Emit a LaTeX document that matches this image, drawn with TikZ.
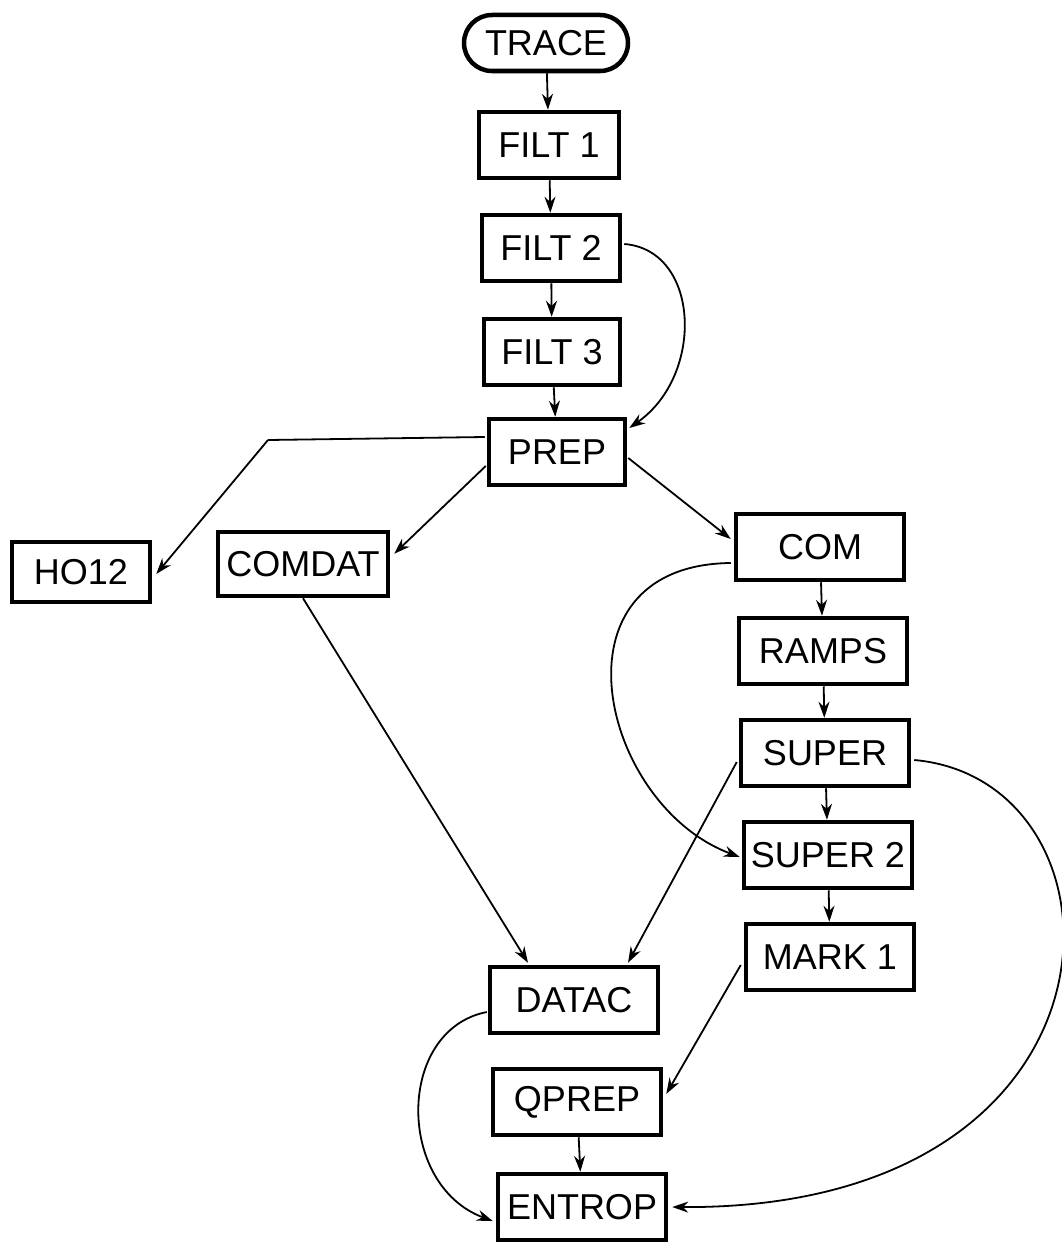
\documentclass[tikz,border=0pt]{standalone}
\usepackage{fontspec}
\setmainfont{Liberation Sans}
\usetikzlibrary{arrows.meta,calc}
\begin{document}
\begin{tikzpicture}[x=1pt,y=-1pt,
  box/.style={draw,line width=4.5pt,inner sep=0pt,minimum width=#1,minimum height=66pt,
    font=\fontsize{36}{40}\selectfont},
  box/.default=166pt,
  pill/.style={box=164pt,minimum height=56pt,rounded corners=28pt},
  arr/.style={line width=1.8pt,-{Stealth[length=16pt,width=11pt]}},
  ln/.style={line width=1.8pt}]
\useasboundingbox (0,0) rectangle (1061,1247);

% program modules
\node[pill] (trace) at (546,43) {TRACE};
\node[box=140pt] (filt1) at (549,145) {FILT 1};
\node[box=138pt] (filt2) at (551,248) {FILT 2};
\node[box=136pt] (filt3) at (552,352) {FILT 3};
\node[box=136pt] (prep) at (557,452) {PREP};
\node[box=138pt,minimum height=60pt] (ho12) at (81,572) {HO12};
\node[box=170pt,minimum height=64pt] (comdat) at (303,564) {COMDAT};
\node[box=168pt] (com) at (820,547) {COM};
\node[box=168pt] (ramps) at (823,651) {RAMPS};
\node[box=168pt] (super) at (825,753) {SUPER};
\node[box=168pt] (super2) at (828,855) {SUPER 2};
\node[box=168pt] (mark1) at (830,957) {MARK 1};
\node[box=168pt] (datac) at (574,1000) {DATAC};
\node[box=168pt] (qprep) at (577,1102) {QPREP};
\node[box=168pt] (entrop) at (582,1207) {ENTROP};

% main chain
\draw[arr] (trace) -- (filt1);
\draw[arr] (filt1) -- (filt2);
\draw[arr] (filt2) -- (filt3);
\draw[arr] (filt3) -- (prep);
\draw[arr] (com) -- (ramps);
\draw[arr] (ramps) -- (super);
\draw[arr] (super) -- (super2);
\draw[arr] (super2) -- (mark1);
\draw[arr] (qprep) -- (entrop);

% bypass of FILT 3
\draw[arr] ($(filt2.east)+(2,-4)$) .. controls (700,250) and (705,375) .. ($(prep.east)+(2,-24)$);

% branches out of PREP
\coordinate (bend) at (268,440);
\draw[ln] ($(prep.west)+(-2,-15)$) -- (bend);
\draw[arr] (bend) -- ($(ho12.east)+(4,2)$);
\draw[arr] ($(prep.west)+(-1,14)$) -- ($(comdat.north east)+(4,24)$);
\draw[arr] ($(prep.east)+(1,6)$) -- ($(com.west)+(-3,-8)$);

% into DATAC
\draw[arr] (comdat.south) -- ($(datac.north)+(-46,-2)$);
\draw[arr] ($(super.west)+(-2,9)$) -- ($(datac.north)+(54,-2)$);

% long loops
\draw[arr] ($(com.west)+(-3,16)$) .. controls (545,565) and (600,805) .. ($(super2.west)+(-2,2)$);
\draw[arr] ($(super.east)+(3,7)$) .. controls (1140,780) and (1145,1210) .. ($(entrop.east)+(4,0)$);
\draw[arr] ($(datac.west)+(-1,12)$) .. controls (396,1030) and (396,1185) .. ($(entrop.west)+(-3,14)$);
\draw[arr] ($(mark1.west)+(-3,8)$) -- ($(qprep.east)+(3,-8)$);
\end{tikzpicture}
\end{document}
